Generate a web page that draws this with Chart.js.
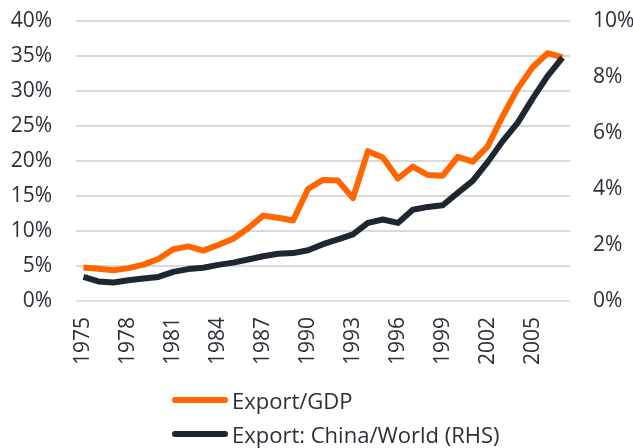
<!DOCTYPE html>
<html>
<head>
<meta charset="utf-8">
<script src="https://cdn.jsdelivr.net/npm/chart.js@4"></script>
<style>
  html, body { margin: 0; padding: 0; background: #ffffff; }
  #wrap { position: relative; width: 633px; height: 448px; overflow: hidden; }
  #c { display: block; }
  #legend { position: absolute; left: 172px; top: 383px; font-family: "Open Sans", sans-serif; font-size: 22px; color: #2b3038; }
  .li { display: flex; align-items: center; height: 34px; white-space: nowrap; }
  .sw { width: 56px; height: 6px; border-radius: 3px; margin-right: 4px; }
</style>
</head>
<body>
<div id="wrap">
  <canvas id="c" width="633" height="448"></canvas>
  <div id="legend"></div>
</div>
<script>
const years = [1975,1976,1977,1978,1979,1980,1981,1982,1983,1984,1985,1986,1987,1988,1989,1990,1991,1992,1993,1994,1995,1996,1997,1998,1999,2000,2001,2002,2003,2004,2005,2006,2007];
const exportGdp = [4.8,4.6,4.4,4.7,5.2,6.0,7.4,7.8,7.2,8.0,8.9,10.4,12.2,11.9,11.5,16.0,17.3,17.2,14.7,21.4,20.5,17.5,19.2,18.0,17.9,20.6,19.9,22.1,26.4,30.3,33.4,35.4,34.8];
const exportShareWorld = [0.86,0.70,0.66,0.74,0.80,0.86,1.04,1.14,1.19,1.29,1.37,1.48,1.60,1.69,1.71,1.81,2.03,2.20,2.38,2.79,2.91,2.79,3.26,3.36,3.42,3.86,4.29,4.96,5.71,6.36,7.23,8.03,8.69];
const seriesNames = ["Export/GDP", "Export: China/World (RHS)"];
const leftTicks = [0,5,10,15,20,25,30,35,40];
const rightTicks = [0,2,4,6,8,10];
const labelStep = 3;

const textColor = "#2b3038";
const font = { family: "'Open Sans', sans-serif", size: 21 };

function noPad(s) { s.paddingTop = 0; s.paddingBottom = 0; s.paddingLeft = 0; s.paddingRight = 0; }

const chart = new Chart(document.getElementById("c"), {
  type: "line",
  data: {
    labels: years.map(String),
    datasets: [
      { label: seriesNames[0], data: exportGdp, yAxisID: "y", borderColor: "#ff6600", backgroundColor: "#ff6600", borderWidth: 6, pointRadius: 0, tension: 0, borderJoinStyle: "round", borderCapStyle: "butt", order: 2 },
      { label: seriesNames[1], data: exportShareWorld, yAxisID: "y2", borderColor: "#1e2631", backgroundColor: "#1e2631", borderWidth: 6, pointRadius: 0, tension: 0, borderJoinStyle: "round", borderCapStyle: "butt", order: 1 }
    ]
  },
  options: {
    responsive: false,
    animation: false,
    layout: { padding: { top: 21, left: 0, right: 0, bottom: 0 } },
    plugins: { legend: { display: false }, tooltip: { enabled: false } },
    scales: {
      x: {
        offset: true,
        grid: { display: false, drawTicks: false },
        border: { display: false },
        ticks: {
          autoSkip: false, minRotation: 90, maxRotation: 90, padding: 16,
          color: textColor, font: font,
          callback: function (v, i) { return i % labelStep === 0 ? this.getLabelForValue(v) : ""; }
        },
        afterFit: s => { s.height = 147; noPad(s); }
      },
      y: {
        position: "left", min: leftTicks[0], max: leftTicks[leftTicks.length - 1],
        afterBuildTicks: s => { s.ticks = leftTicks.map(v => ({ value: v })); },
        grid: { color: c => (c.tick && c.tick.value === 0 ? "#dde1ea" : "#d9d9d9"), lineWidth: 2, drawTicks: false },
        border: { display: false },
        ticks: { color: textColor, font: font, padding: 24, callback: v => v + "%" },
        afterFit: s => { s.width = 76; noPad(s); }
      },
      y2: {
        position: "right", min: rightTicks[0], max: rightTicks[rightTicks.length - 1],
        afterBuildTicks: s => { s.ticks = rightTicks.map(v => ({ value: v })); },
        grid: { display: false, drawTicks: false },
        border: { display: false },
        ticks: { color: textColor, font: font, padding: 23, callback: v => v + "%" },
        afterFit: s => { s.width = 63; noPad(s); }
      }
    }
  }
});

const legendEl = document.getElementById("legend");
chart.data.datasets.forEach(ds => {
  const row = document.createElement("div");
  row.className = "li";
  const sw = document.createElement("span");
  sw.className = "sw";
  sw.style.background = ds.borderColor;
  const tx = document.createElement("span");
  tx.textContent = ds.label;
  row.appendChild(sw);
  row.appendChild(tx);
  legendEl.appendChild(row);
});
</script>
</body>
</html>
